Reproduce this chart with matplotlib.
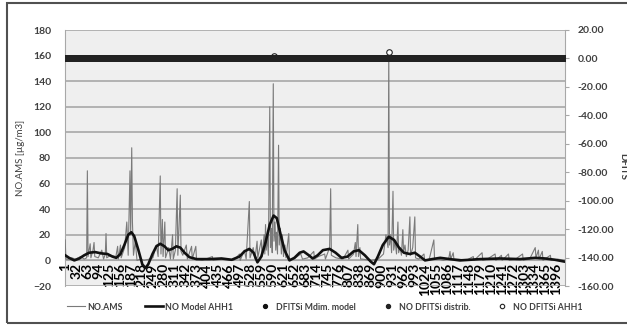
import numpy as np
import matplotlib
matplotlib.use("Agg")
import matplotlib.pyplot as plt
from matplotlib.patches import Rectangle

plt.rcParams['font.family'] = ['Lato', 'DejaVu Sans']
plt.rcParams['font.weight'] = 'bold'

# observation numbers (categories) and tick labels
n_obs = 1420
tick_obs = list(range(1, 1397, 31))

# NO.AMS measured values, read at the visible vertices of the grey line
ams_obs = [1, 3, 10, 20, 30, 45, 55, 62, 64, 66, 72, 74, 80, 83, 85, 95, 105, 110, 115, 117,
           119, 130, 145, 150, 152, 158, 160, 170, 176, 180, 185, 187, 190, 192, 195, 200, 205,
           215, 225, 240, 250, 260, 265, 271, 273, 277, 279, 284, 286, 295, 300, 306, 308, 314,
           319, 321, 325, 328, 330, 335, 345, 348, 360, 362, 372, 374, 390, 419, 421, 450, 480,
           496, 498, 510, 515, 524, 526, 535, 540, 546, 548, 558, 560, 566, 568, 570, 572, 575,
           578, 582, 584, 587, 589, 592, 594, 597, 599, 601, 604, 607, 609, 612, 615, 618, 621,
           625, 628, 636, 638, 650, 670, 675, 690, 707, 709, 720, 738, 740, 752, 755, 757, 770,
           790, 804, 806, 820, 825, 827, 832, 834, 838, 840, 845, 870, 890, 905, 912, 918, 920,
           922, 925, 928, 932, 934, 938, 942, 946, 948, 952, 956, 960, 962, 966, 970, 975, 980,
           982, 988, 994, 996, 1005, 1020, 1022, 1035, 1048, 1050, 1060, 1075, 1090, 1094, 1096,
           1103, 1105, 1120, 1140, 1160, 1162, 1185, 1187, 1200, 1222, 1224, 1240, 1242, 1260,
           1262, 1280, 1300, 1302, 1320, 1336, 1338, 1345, 1347, 1356, 1358, 1379, 1381, 1400,
           1420]
ams_val = [16, 1, 1, 2, 1, 3, 1, 2, 70, 3, 13, 2, 8, 14, 3, 2, 8, 1, 5, 21,
           2, 4, 3, 11, 1, 12, 2, 10, 30, 4, 70, 20, 88, 30, 4, 15, 0,
           1, 0, 1, 2, 12, 3, 66, 5, 32, 3, 30, 2, 10, 1, 20, 1, 8,
           56, 4, 30, 51, 7, 4, 12, 1, 11, 1, 11, 1, 0, 3, 0, 1, 0,
           5, 0, 8, 1, 46, 2, 10, 1, 15, 2, 16, 3, 20, 5, 28, 8, 18,
           4, 120, 10, 25, 6, 138, 15, 30, 8, 22, 5, 90, 12, 25, 5, 20, 3,
           12, 2, 21, 1, 1, 5, 1, 2, 7, 1, 3, 5, 1, 10, 56, 4, 2,
           1, 8, 1, 5, 14, 3, 28, 3, 10, 1, 1, 0, 1, 5, 20, 10, 163,
           12, 20, 6, 54, 8, 15, 5, 30, 6, 10, 4, 24, 6, 12, 3, 8, 34,
           4, 10, 34, 2, 1, 5, 0, 1, 16, 1, 1, 0, 1, 7, 1,
           6, 1, 1, 0, 3, 0, 6, 0, 1, 5, 0, 4, 0, 5,
           0, 1, 5, 0, 1, 10, 2, 8, 1, 7, 0, 4, 0, 1,
           0]

# NO Model AHH1 values
model_obs = [1, 12, 27, 41, 55, 69, 86, 103, 121, 135, 146, 158, 169, 180, 189, 197, 209, 220,
             229, 237, 249, 260, 271, 283, 294, 305, 317, 328, 340, 354, 374, 411, 445, 474, 496,
             510, 524, 536, 547, 558, 570, 582, 593, 602, 613, 624, 638, 652, 667, 678, 693, 704,
             718, 733, 752, 769, 786, 803, 820, 835, 852, 869, 878, 889, 903, 920, 935, 949, 963,
             980, 994, 1009, 1023, 1043, 1066, 1094, 1122, 1151, 1179, 1236, 1293, 1336, 1364,
             1392, 1420]
model_val = [4, 2, 0, 1.5, 4, 6, 6.5, 5.5, 5, 3, 2, 5, 12, 20, 22, 19, 8, -3,
             -6, -3, 5, 11, 13, 11, 8, 9, 11, 10, 6, 2.5, 1, 1, 1.5, 0.5, 3,
             7, 9, 6, -1.5, 3, 14, 28, 35, 33, 20, 8, 0, 2, 6, 7, 4, 1.5,
             4, 8, 9, 6, 2, 3, 7, 8, 4, -1, -3, 3, 12, 18.5, 16, 10, 6,
             5, 6, 3, 0, 1, 2, 1, 0, 0.5, 1, 1.5, 1, 2, 1.5,
             0.5, -1]

dfits_mdim = [0.0] * (n_obs - 1)
dfits_distrib = [0.0] * (n_obs - 1)
dfits_ahh1 = [0.0] * n_obs
dfits_ahh1[594] = 2.0
dfits_ahh1[919] = 4.5

grey_txt = '#404040'
fig = plt.figure(figsize=(6.27, 3.33), dpi=100)
ax = fig.add_axes([65 / 627, 1 - 286 / 333, 500 / 627, 256 / 333])
ax.set_facecolor('#efefef')

ax.plot(ams_obs, ams_val, color='#7a7a7a', lw=0.8, zorder=3, label='NO.AMS')
ax.plot(model_obs, model_val, color='#111111', lw=1.9, zorder=4, label='NO Model AHH1')

ax.set_xlim(0.5, n_obs + 0.5)
ax.set_ylim(-20, 180)
ax.set_yticks(range(-20, 181, 20))
ax.grid(axis='y', color='#a8a8a8', lw=1.2)
ax.set_axisbelow(True)
ax.set_xticks(tick_obs)
ax.set_xticklabels([str(t) for t in tick_obs], fontsize=4.3, color='#505050')
ax.tick_params(axis='x', length=0, pad=2, labelrotation=90)
ax.tick_params(axis='y', length=0, labelsize=7.5, labelcolor=grey_txt, pad=10)
ax.spines['bottom'].set_position(('data', 0))
ax.spines['bottom'].set_color('#a8a8a8')
ax.spines['left'].set_color('#a8a8a8')
ax.spines['top'].set_visible(False)
ax.spines['right'].set_visible(False)
ax.set_ylabel('NO.AMS [µg/m3]', fontsize=7, color=grey_txt, labelpad=6)

ax2 = ax.twinx()
x_all = np.arange(1, n_obs + 1)
ax2.plot(x_all, dfits_ahh1, ls='none', marker='o', ms=4, mfc='white', mec='#222222',
         mew=0.8, zorder=2, label='NO DFITSi AHH1')
ax2.plot(x_all[:-1], dfits_mdim, ls='none', marker='o', ms=3.5, color='#111111',
         zorder=3, label='DFITSi Mdim. model')
ax2.plot(x_all[:-1], dfits_distrib, ls='none', marker='o', ms=3.6, color='#222222',
         zorder=3, label='NO DFITSi distrib.')
ax2.set_ylim(-160, 20)
ax2.set_yticks(range(-160, 21, 20))
ax2.set_yticklabels(['%.2f' % v for v in range(-160, 21, 20)])
ax2.tick_params(axis='y', length=3, color='#a8a8a8', labelsize=7.5, labelcolor=grey_txt, pad=6)
for s in ['top', 'bottom', 'left']:
    ax2.spines[s].set_visible(False)
ax2.spines['right'].set_color('#a8a8a8')

fig.text(623 / 627, 0.5, 'DFITS', rotation=270, fontsize=7, color=grey_txt,
         ha='center', va='center')

h1, l1 = ax.get_legend_handles_labels()
h2, l2 = ax2.get_legend_handles_labels()
handles = h1 + [h2[1], h2[2], h2[0]]
labels = l1 + [l2[1], l2[2], l2[0]]
leg = fig.legend(handles, labels, loc='center', bbox_to_anchor=(325 / 627, 1 - 307 / 333),
                 ncol=5, frameon=False, fontsize=6.3, handlelength=2.0, columnspacing=2.6,
                 handletextpad=0.3, markerscale=0.8)
for t in leg.get_texts():
    t.set_color(grey_txt)

fig.patches.append(Rectangle((7 / 627, 1 - 323 / 333), 2, 320 / 333, transform=fig.transFigure,
                             fill=False, ec='#505050', lw=1.5))

fig.savefig('out.png', dpi=100)
